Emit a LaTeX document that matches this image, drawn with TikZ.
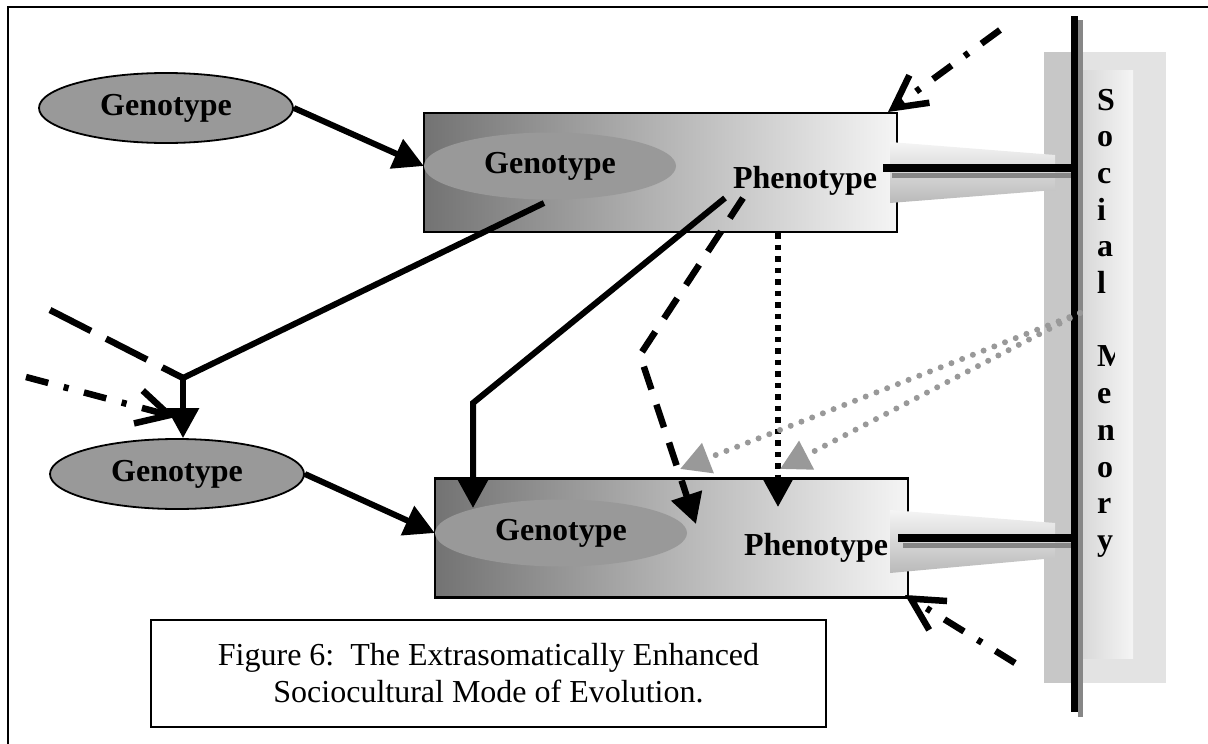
\documentclass[tikz,border=0pt]{standalone}
\usepackage{fontspec}
\setmainfont{Liberation Serif}
\usetikzlibrary{arrows.meta,shapes.geometric,calc}

\definecolor{ellgray}{gray}{0.60}
\definecolor{boxdark}{gray}{0.45}
\definecolor{boxlight}{gray}{0.96}
\definecolor{dotgray}{gray}{0.60}
\definecolor{stripdark}{gray}{0.78}
\definecolor{striplight}{gray}{0.89}
\definecolor{panelleft}{gray}{0.85}
\definecolor{panelright}{gray}{0.96}
\definecolor{shadowgray}{gray}{0.53}

\begin{document}
\begin{tikzpicture}[x=1pt,y=-1pt,
  lbl/.style={inner sep=0pt, font=\fontsize{32}{38}\selectfont\bfseries},
  genell/.style={ellipse, draw=black, line width=1.8pt, fill=ellgray,
    minimum width=254pt, minimum height=70pt, inner sep=0pt,
    font=\fontsize{32}{38}\selectfont\bfseries},
  inell/.style={ellipse, fill=ellgray, minimum width=252pt, minimum height=67pt,
    inner sep=0pt, font=\fontsize{32}{38}\selectfont\bfseries},
  orgbox/.style={draw=black, line width=2.2pt, left color=boxdark, right color=boxlight,
    minimum width=473pt, minimum height=119pt, inner sep=0pt},
  link/.style={line width=6pt},
  bigtip/.style={-{Triangle[length=30pt,width=31pt]}},
  graytip/.style={-{Triangle[length=30pt,width=31pt]}},
  barbtip/.style={-{Straight Barb[length=32pt,width=34pt]}},
  longdash/.style={line width=6.5pt, dash pattern=on 46pt off 17pt},
  shortdash/.style={line width=6.5pt, dash pattern=on 24pt off 16pt},
  dashdot/.style={line width=6.5pt, dash pattern=on 23pt off 16pt on 5pt off 16pt},
  squaredots/.style={line width=6pt, dash pattern=on 5.5pt off 6pt},
  graydots/.style={line width=6pt, dotgray, line cap=round, dash pattern=on 0pt off 11.5pt},
  wedge/.style={top color=boxlight, bottom color=gray!55},
  memline/.style={line width=7.5pt, black},
  memshadow/.style={line width=5pt, shadowgray},
  memletter/.style={anchor=base west, inner sep=0pt, font=\fontsize{32}{38}\selectfont\bfseries}
]
\useasboundingbox (0,0) rectangle (1208,744);

% outer frame
\draw[line width=2.8pt] (8,760) -- (8,7) -- (1220,7);

% social memory column
\fill[stripdark] (1044,52) rectangle (1074,683);
\fill[striplight] (1074,52) rectangle (1166,683);
\shade[left color=panelleft, right color=panelright] (1083,70) rectangle (1133,658);

% organism boxes
\node[orgbox] (ubox) at (660.5,172.5) {};
\node[orgbox] (lbox) at (671.5,538) {};

% genotypes inside the organisms
\node[inell] (ugen) at (550,166) {Genotype};
\node[inell] (lgen) at (561,533) {Genotype};

% phenotypes
\node[lbl] (uphen) at (805,181) {Phenotype};
\node[lbl] (lphen) at (816,548) {Phenotype};

% free-standing genotypes
\node[genell] (gen1) at (166,108) {Genotype};
\node[genell] (gen2) at (177,474) {Genotype};

% funnels from the phenotypes into social memory
\shade[wedge] (890,142) -- (1055,155) -- (1055,190) -- (890,203) -- cycle;
\shade[wedge] (890,510) -- (1055,523) -- (1055,558) -- (890,573) -- cycle;

% links phenotype -> social memory
\coordinate (um) at (1074,168);
\coordinate (lm) at (1074,538);
\draw[memshadow] (892,175.5) -- (um |- 0,175.5);
\draw[memline] (883,168) -- (um);
\draw[memshadow] (903,545.5) -- (lm |- 0,545.5);
\draw[memline] (898,538) -- (lm);

% social memory spine
\draw[line width=5pt, shadowgray] (1080.5,20) -- (1080.5,717);
\draw[line width=7.5pt] (1074.5,16) coordinate (spinetop) -- (1074.5,712) coordinate (spinebot);

% column letters
\begin{scope}
  \clip (1090,60) rectangle (1114,660);
  \foreach \ch [count=\i] in {S,o,c,i,a,l,{},M,e,n,o,r,y}
    \node[memletter] (sm\i) at (1097,{110+(\i-1)*36.7}) {\ch};
\end{scope}

% genotype -> organism
\draw[link,bigtip] (gen1.east) -- (ugen.west);
\draw[link,bigtip] (gen2.east) -- (lgen.west);

% inheritance branch
\coordinate (j) at (183,378);
\coordinate (ug) at (544,203);
\draw[link] (ug) -- (j);
\draw[link,bigtip] (j) -- (j |- gen2.north);
\coordinate (dl) at (50,310);
\draw[longdash] (dl) -- (j);
\coordinate (ddl) at (26,377);
\coordinate (tA) at (176,417);
\draw[dashdot,barbtip] (ddl) -- (tA);

% phenotype -> next organism
\coordinate (ps1) at (725,198);
\coordinate (pb1) at (473,403);
\coordinate (t1) at (473,508);
\draw[link,bigtip] (ps1) -- (pb1) -- (t1);

\coordinate (ps2) at (743,198);
\coordinate (pb2) at (640,355);
\coordinate (t2) at (696,524);
\draw[shortdash,bigtip] (ps2) -- (pb2) -- (t2);

\coordinate (ps3) at (778,233);
\coordinate (t3) at (778,507);
\draw[squaredots,bigtip] (ps3) -- (t3);

% social memory -> next organism
\coordinate (sm) at (1080,313);
\coordinate (t4) at (680,469);
\coordinate (t5) at (780,469);
\draw[graydots,graytip] (sm) -- (t4);
\draw[graydots,graytip] (sm) -- (t5);

% outside influences
\coordinate (dd2) at (1000,30);
\coordinate (t6) at (888,112);
\draw[dashdot,barbtip] (dd2) -- (t6);
\coordinate (dd3) at (1015,663);
\coordinate (t7) at (905,595);
\draw[dashdot,barbtip] (dd3) -- (t7);

% caption
\node[draw, line width=2pt, minimum width=675pt, minimum height=107pt, align=center,
  font=\fontsize{32}{37}\selectfont] (cap) at (488.5,673.5)
  {Figure 6:\ \ The Extrasomatically Enhanced\\Sociocultural Mode of Evolution.};
\end{tikzpicture}
\end{document}
